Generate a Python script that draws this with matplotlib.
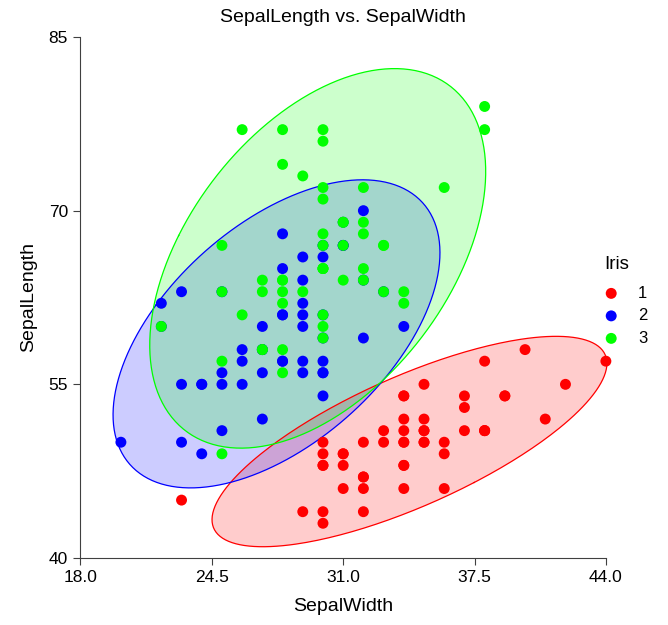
import numpy as np
import matplotlib.pyplot as plt

plt.rcParams["font.family"] = ["Liberation Sans", "DejaVu Sans"]

setosa_width = [35, 30, 32, 31, 36, 39, 34, 34, 29, 31, 37, 34, 30, 30, 40, 44, 39, 35, 38, 38,
                34, 37, 36, 33, 34, 30, 34, 35, 34, 32, 31, 34, 41, 42, 31, 32, 35, 36, 30, 34,
                35, 23, 32, 35, 38, 30, 38, 32, 37, 33]
setosa_length = [51, 49, 47, 46, 50, 54, 46, 50, 44, 49, 54, 48, 48, 43, 58, 57, 54, 51, 57, 51,
                 54, 51, 46, 51, 48, 50, 50, 52, 52, 47, 48, 54, 52, 55, 49, 50, 55, 49, 44, 51,
                 50, 45, 44, 50, 51, 48, 51, 46, 53, 50]
versi_width = [32, 32, 31, 23, 28, 28, 33, 24, 29, 27, 20, 30, 22, 29, 29, 31, 30, 27, 22, 25,
               32, 28, 25, 28, 29, 30, 28, 30, 29, 26, 24, 24, 27, 27, 30, 34, 31, 23, 30, 25,
               26, 30, 26, 23, 27, 30, 29, 29, 25, 28]
versi_length = [70, 64, 69, 55, 65, 57, 63, 49, 66, 52, 50, 59, 60, 61, 56, 67, 56, 58, 62, 56,
                59, 61, 63, 61, 64, 66, 68, 67, 60, 57, 55, 55, 58, 60, 54, 60, 67, 63, 56, 55,
                55, 61, 58, 50, 56, 57, 57, 62, 51, 57]
virg_width = [33, 27, 30, 29, 30, 30, 25, 29, 25, 36, 32, 27, 30, 25, 28, 32, 30, 38, 26, 22,
              32, 28, 28, 27, 33, 32, 28, 30, 28, 30, 28, 38, 28, 28, 26, 30, 34, 31, 30, 31,
              31, 31, 27, 32, 33, 30, 25, 30, 34, 30]
virg_length = [63, 58, 71, 63, 65, 76, 49, 73, 67, 72, 65, 64, 68, 57, 58, 64, 65, 77, 77, 60,
               69, 56, 77, 63, 67, 72, 62, 61, 64, 72, 74, 79, 64, 63, 61, 77, 63, 64, 60, 69,
               67, 69, 58, 68, 67, 67, 63, 65, 62, 59]

groups = ["1", "2", "3"]
widths = [setosa_width, versi_width, virg_width]
lengths = [setosa_length, versi_length, virg_length]
colors = ["#FF0000", "#0000FF", "#00FF00"]


def prediction_ellipse(x, y, p=0.95, npts=300):
    # 95% prediction ellipse based on Hotelling's T^2 / F(2, n-2)
    x = np.asarray(x, float)
    y = np.asarray(y, float)
    n = len(x)
    cov = np.cov(x, y)
    df2 = n - 2
    f = (df2 / 2.0) * ((1 - p) ** (-2.0 / df2) - 1)
    k = np.sqrt(2 * (n - 1) * (n + 1) / (n * (n - 2)) * f)
    vals, vecs = np.linalg.eigh(cov)
    t = np.linspace(0, 2 * np.pi, npts)
    circ = np.vstack([np.cos(t), np.sin(t)])
    pts = vecs @ (np.sqrt(vals)[:, None] * circ) * k
    return x.mean() + pts[0], y.mean() + pts[1]


fig = plt.figure(figsize=(6.68, 6.25), dpi=100)
ax = fig.add_axes([0.1205, 0.1072, 0.7865, 0.8336])

# ellipses: fills first, then outlines
shapes = [prediction_ellipse(w, l) for w, l in zip(widths, lengths)]
for (ex, ey), c in zip(shapes, colors):
    ax.fill(ex, ey, color=c, alpha=0.2, lw=0, clip_on=False)
for (ex, ey), c in zip(shapes, colors):
    ax.plot(ex, ey, color=c, lw=0.9, clip_on=False)

for w, l, c, g in zip(widths, lengths, colors, groups):
    ax.scatter(w, l, s=62, color=c, edgecolors="none", label=g, zorder=3, clip_on=False)

ax.set_xlim(18, 44)
ax.set_ylim(40, 85)
ax.set_xticks([18.0, 24.5, 31.0, 37.5, 44.0])
ax.set_xticklabels(["18.0", "24.5", "31.0", "37.5", "44.0"])
ax.set_yticks([40, 55, 70, 85])

for side in ["top", "right"]:
    ax.spines[side].set_visible(False)
for side in ["left", "bottom"]:
    ax.spines[side].set_color("#404040")
ax.tick_params(direction="out", length=5, color="#404040", labelsize=12.5, pad=4)

ax.set_xlabel("SepalWidth", fontsize=14, labelpad=9)
ax.set_ylabel("SepalLength", fontsize=14, labelpad=8)
ax.set_title("SepalLength vs. SepalWidth", fontsize=14, pad=11)

leg = ax.legend(title="Iris", loc="upper left", bbox_to_anchor=(0.905, 0.590),
                bbox_transform=fig.transFigure, frameon=False, fontsize=12,
                title_fontsize=13.5, borderpad=0, borderaxespad=0, handlelength=0.8,
                handletextpad=1.2, labelspacing=0.45, alignment="left")
leg._legend_box.sep = 9

fig.savefig("out.png", dpi=100)
